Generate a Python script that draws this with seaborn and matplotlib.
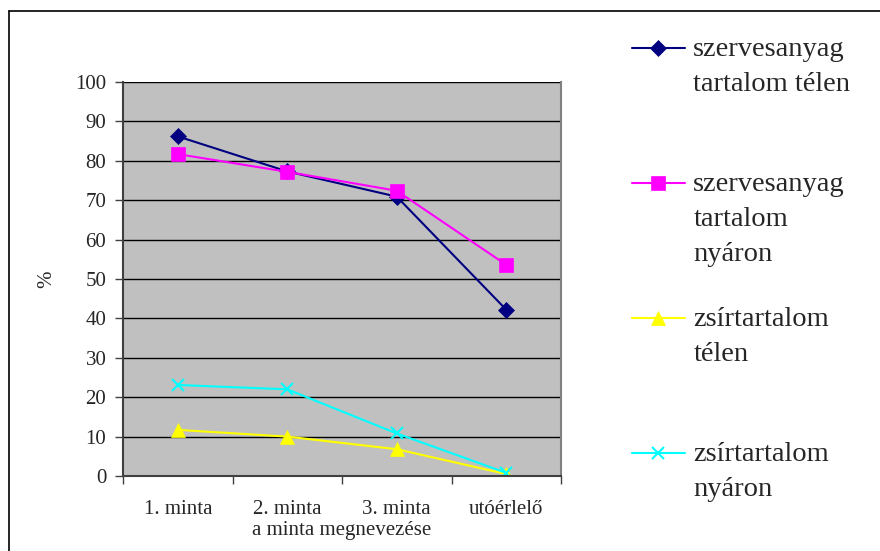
import numpy as np
import pandas as pd
import matplotlib
matplotlib.use("Agg")
import matplotlib.pyplot as plt
import seaborn as sns
from matplotlib.legend_handler import HandlerLine2D
from matplotlib.ticker import FixedLocator, NullFormatter

# --- data -------------------------------------------------------------
categories = ["1. minta", "2. minta", "3. minta", "utóérlelő"]
szerves_telen = [86.2, 77.3, 70.9, 42.2]
szerves_nyaron = [81.7, 77.2, 72.4, 53.6]
zsir_telen = [11.7, 10.0, 6.8, 0.5]
zsir_nyaron = [23.1, 22.0, 10.8, 0.8]

series_names = [
    "szervesanyag\ntartalom télen",
    "szervesanyag\ntartalom\nnyáron",
    "zsírtartalom\ntélen",
    "zsírtartalom\nnyáron",
]
series_values = [szerves_telen, szerves_nyaron, zsir_telen, zsir_nyaron]
y_ticks = list(range(0, 101, 10))

df = pd.concat(
    [pd.DataFrame({"pos": np.arange(len(categories)), "value": vals, "series": name})
     for name, vals in zip(series_names, series_values)],
    ignore_index=True,
)

colors = ["#000080", "#FF00FF", "#FFFF00", "#00FFFF"]
markers = ["D", "s", "^", "x"]
msizes = [8, 10, 10, 9]

sns.set_style("white")
plt.rcParams["font.family"] = ["Liberation Serif", "DejaVu Serif"]

fig = plt.figure(figsize=(8.8, 5.51), dpi=100)
ax = fig.add_axes([123 / 880, 1 - 476 / 551, 438 / 880, 394 / 551])
ax.set_facecolor("#C0C0C0")

for name, c, m, ms in zip(series_names, colors, markers, msizes):
    sns.lineplot(
        data=df[df["series"] == name], x="pos", y="value", ax=ax,
        color=c, marker=m, markersize=ms, linewidth=1.5,
        markeredgecolor=c, markeredgewidth=1.5 if m == "x" else 0.5,
        label=name, legend=False, sort=False,
    )

ax.set_xlim(-0.5, len(categories) - 0.5)
ax.set_ylim(0, 100)
ax.yaxis.set_major_locator(FixedLocator(y_ticks))
ax.set_yticklabels([str(t) for t in y_ticks], fontsize=15)
ax.grid(axis="y", color="#000000", linewidth=1.0)
ax.grid(axis="x", visible=False)

# category boundaries carry the tick marks, centers carry the labels
ax.xaxis.set_major_locator(FixedLocator(np.arange(len(categories) + 1) - 0.5))
ax.xaxis.set_major_formatter(NullFormatter())
ax.xaxis.set_minor_locator(FixedLocator(np.arange(len(categories))))
ax.set_xticklabels(categories, minor=True, fontsize=15)
ax.tick_params(axis="x", which="major", direction="out", length=6, width=1, color="#404040", bottom=True)
ax.tick_params(axis="x", which="minor", length=0, pad=17)
ax.tick_params(axis="y", direction="out", length=6, width=1, color="#404040", left=True, pad=6)

ax.spines["top"].set_visible(False)
ax.spines["left"].set_color("#404040")
ax.spines["left"].set_linewidth(1.5)
ax.spines["bottom"].set_color("#404040")
ax.spines["bottom"].set_linewidth(1.5)
ax.spines["right"].set_color("#808080")
ax.spines["right"].set_linewidth(1.5)

ax.set_xlabel("a minta megnevezése", fontsize=15, labelpad=2)
ax.set_ylabel("%", fontsize=15, labelpad=14)


class FirstLineHandler(HandlerLine2D):
    """Line handle aligned with the first line of a three-line label."""

    def __init__(self, shift, **kw):
        super().__init__(**kw)
        self.shift = shift

    def create_artists(self, legend, orig_handle, xdescent, ydescent,
                       width, height, fontsize, trans):
        return super().create_artists(legend, orig_handle, xdescent,
                                      ydescent - 2 * self.shift * fontsize,
                                      width, height, fontsize, trans)


handles, labels = ax.get_legend_handles_labels()
# pad every label to three lines so the entries are evenly spaced
padded = []
for lab in labels:
    n = lab.count("\n") + 1
    padded.append(lab + "\n " * (3 - n))

hmap = {h: FirstLineHandler(1.26) for h in handles}
leg = fig.legend(
    handles, padded, handler_map=hmap,
    loc="upper left", bbox_to_anchor=(632 / 880, 1 - 37 / 551),
    frameon=False, fontsize=20.5, handlelength=1.85, handletextpad=0.3,
    labelspacing=1.40, borderaxespad=0, borderpad=0,
)
for t in leg.get_texts():
    t.set_linespacing(1.53)

# outer chart frame (left and top edges)
fig.add_artist(plt.Line2D([8.5 / 880, 8.5 / 880], [0, 1 - 10.5 / 551], color="black", lw=1.2,
                          transform=fig.transFigure))
fig.add_artist(plt.Line2D([8.5 / 880, 1], [1 - 10.5 / 551, 1 - 10.5 / 551], color="black", lw=1.2,
                          transform=fig.transFigure))

fig.savefig("out.png", dpi=100)
